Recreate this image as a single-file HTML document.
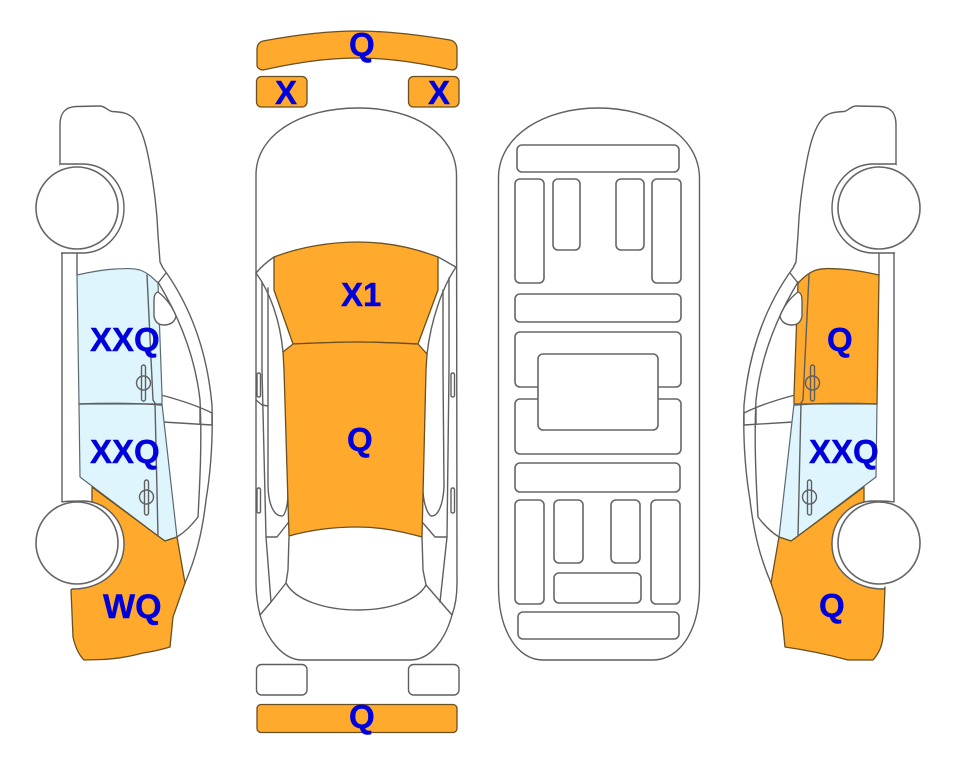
<!DOCTYPE html>
<html>
<head>
<meta charset="utf-8">
<style>
html,body{margin:0;padding:0;background:#fff;width:963px;height:768px;overflow:hidden}
svg{display:block}
text{font-family:"Liberation Sans",Arial,sans-serif;font-weight:bold;font-size:33px;fill:#0000dc;stroke:#0000dc;stroke-width:.4}
.l{fill:none;stroke:#5f5f5f;stroke-width:1.4;stroke-linejoin:round;stroke-linecap:round}
.w{fill:#fff;stroke:#5f5f5f;stroke-width:1.4}
.o{fill:#ffa92d;stroke:#6a5020;stroke-width:1.3;stroke-linejoin:round}
.b{fill:#def5fe;stroke:#5a6a70;stroke-width:1.2;stroke-linejoin:round}
.r{fill:#fff;stroke:#666;stroke-width:1.6}
</style>
</head>
<body>
<svg width="963" height="768" viewBox="0 0 963 768" xmlns="http://www.w3.org/2000/svg">
<defs>
<g id="side">
  <path class="l" d="M60 165L60 125C60 112 66 107 76 106.500L100 106C105 106 108 111 112 111.500C122 112 128 113 133 118C142 128 146 145 149 160C154 185 157 210 158 235L160 262L163 268C190 305 207 350 212 405C213 440 211 470 206 500C202 535 195 560 185 583"/>
  <path class="l" d="M158 282C178 315 195 355 200 400C202 440 200 480 198 517C192 525 185 532 177 537"/>
  <path class="l" d="M158 283L166 273"/>
  <path class="l" d="M62 253L62 502"/>
  <path class="l" d="M77 253L77 275"/>
  <path class="l" d="M161 395C180 400 198 406 212 413L212 425L163 422"/>
  <path class="l" d="M200 408L200 423"/>
</g>
<g id="sideTop">
  <path class="l" d="M147 275L153 400L155 403L158 536"/>
  <path class="l" d="M79 404C105 403 135 403 161 405"/>
  <path class="w" d="M158 292C154 293 154 298 154 302L154 316C155 322 158 325 164 325C170 325 175 322 176 316C172 306 166 298 158 292Z"/>
  <rect class="l" x="141.500" y="365" width="4" height="36" rx="2" style="fill:none"/>
  <circle class="l" cx="143.500" cy="383" r="7"/>
  <rect class="l" x="144.500" y="480" width="4" height="35" rx="2"/>
  <circle class="l" cx="146.500" cy="497" r="7"/>
  <path class="w" d="M60 164L84 164C107 165 124 184 124 208C124 232 107 252 84 253L61 253"/>
  <circle class="r" cx="77" cy="208" r="41"/>
  <path class="w" d="M62 502C66 501 76 501 84 501C107 502 124 521 124 544C124 570 102 589 72 589"/>
  <circle class="r" cx="77" cy="543" r="41"/>
</g>
</defs>

<!-- left car -->
<use href="#side"/>
<path class="b" d="M77 275C90 272 100 270 115 269C125 268.500 132 268 140 270C148 273 153 278 158 283L162 395L162 404L79 404Z"/>
<path class="b" d="M79 404L162 404L177 537L165 541L158 536L80 477Z"/>
<path class="o" d="M92 487L158 536L165 541L177 537L185 583L173 617L170 647C160 650 150 652 143 653C128 657 115 659 103 659.500L84 660C78 654 75 646 73 637L71 590L72 589C102 589 124 570 124 544C124 525 111 507 92 503Z"/>
<use href="#sideTop"/>

<!-- right car -->
<use href="#side" transform="translate(956,0) scale(-1,1)"/>
<g transform="translate(956,0) scale(-1,1)">
<path class="o" d="M77 275C90 272 100 270 115 269C125 268.500 132 268 140 270C148 273 153 278 158 283L162 395L162 404L79 404Z"/>
<path class="b" d="M79 404L162 404L177 537L165 541L158 536L80 477Z"/>
<path class="o" d="M92 487L158 536L165 541L177 537L185 583L174 617L171 647C150 650 130 654 108 660L83 660C76 652 74 645 73 637L71 587L72 589C102 589 124 570 124 544C124 525 111 507 92 503Z"/>
</g>
<use href="#sideTop" transform="translate(956,0) scale(-1,1)"/>

<!-- top view -->
<path class="o" d="M257 50C257 45 259 42 263 41C295 35 325 31 358 31C390 31 420 35 450 40C455 41 457 45 457 49L457 65C457 68 455 70 452 70C420 63 390 58 358 58C325 58 295 63 263 70C260 70 257 68 257 65Z"/>
<rect class="o" x="256.500" y="76.500" width="50.500" height="30.500" rx="5"/>
<rect class="o" x="408.500" y="76.500" width="50.500" height="30.500" rx="5"/>
<path class="l" d="M256 175C256 135 300 108 358 108C416 108 456 135 456.500 175L457 583C457 595 455 607 452 615C446 637 432 660 410 660L302 660C282 660 266 637 260 615C258 607 256 595 256 583Z"/>
<path class="l" d="M256 273C262 266 268 261 274 257M438 257C444 260 450 264 456 267"/>
<path class="l" d="M256 273C270 292 280 320 283 352M456 267C442 288 431 320 427 354"/>
<path class="l" d="M262 282L262 370L266 537L271 602"/>
<path class="l" d="M268 288L268 483C268 505 274 516 282 516C285 516 288 505 288 493"/>
<path class="l" d="M449 278L449 370L447 537L440 602"/>
<path class="l" d="M443 290L443 370L444 487C443 505 438 516 432 516C428 516 424 505 423 492"/>
<path class="l" d="M256 400L262 405L268 406"/>
<path class="l" d="M266 537L277 537L288 523M447 537L435 537L423 523"/>
<rect class="l" x="257" y="373" width="3.500" height="24" rx="1.500"/>
<rect class="l" x="257" y="488" width="3.500" height="25" rx="1.500"/>
<rect class="l" x="451" y="373" width="3.500" height="24" rx="1.500"/>
<rect class="l" x="451" y="488" width="3.500" height="25" rx="1.500"/>
<path class="l" d="M289 537L288 570L286 583C295 600 325 610 358 610C390 610 418 600 426 585L423 570L422 537"/>
<path class="l" d="M286 583L271 602L260 615M426 585L452 615"/>
<path class="o" d="M274 257C300 247 330 242 358 242C385 242 412 247 438 257L438 290L418 344C395 343 378 342 358 342C335 342 315 343 293 344L274 290Z"/>
<path class="o" d="M283 352L293 344C315 343 335 342 358 342C378 342 395 343 418 344L427 354L426 370L422 537C400 531 380 527 358 527C333 527 310 530 289 536L284 370Z"/>
<rect class="w" x="256.500" y="664.500" width="50.500" height="30.500" rx="5"/>
<rect class="w" x="408.500" y="664.500" width="50.500" height="30.500" rx="5"/>
<rect class="o" x="257" y="704.500" width="200" height="28" rx="4"/>

<!-- underbody -->
<path class="l" d="M498.500 178C498.500 135 545 108 598 108C652 108 699 135 699.500 178L699.500 587C699.500 630 680 660 653 660L543 660C517 660 498.500 630 498.500 587Z"/>
<rect class="r" x="517" y="145" width="162" height="27" rx="5"/>
<rect class="r" x="515" y="179" width="29" height="104" rx="5"/>
<rect class="r" x="553" y="179" width="27" height="71" rx="5"/>
<rect class="r" x="616" y="179" width="28" height="71" rx="5"/>
<rect class="r" x="652" y="179" width="29" height="104" rx="5"/>
<rect class="r" x="515" y="294" width="166" height="28" rx="5"/>
<rect class="r" x="515" y="332" width="166" height="55" rx="5"/>
<rect class="r" x="515" y="399" width="166" height="55" rx="5"/>
<rect class="r" x="538" y="354" width="120" height="76" rx="5"/>
<rect class="r" x="515" y="463" width="165" height="29" rx="5"/>
<rect class="r" x="515" y="500" width="29" height="104" rx="5"/>
<rect class="r" x="554" y="500" width="29" height="63" rx="5"/>
<rect class="r" x="611" y="500" width="29" height="63" rx="5"/>
<rect class="r" x="651" y="500" width="29" height="104" rx="5"/>
<rect class="r" x="554" y="573" width="87" height="30" rx="5"/>
<rect class="r" x="518" y="612" width="161" height="27" rx="5"/>

<!-- labels -->
<text x="349" y="56">Q</text>
<text x="275" y="104">X</text>
<text x="428" y="104">X</text>
<text x="341" y="306">X1</text>
<text x="347" y="451">Q</text>
<text x="349" y="728">Q</text>
<text x="90" y="351">XXQ</text>
<text x="90" y="463">XXQ</text>
<text x="103" y="618" style="font-size:34px">WQ</text>
<text x="827" y="351">Q</text>
<text x="809" y="463">XXQ</text>
<text x="819" y="617">Q</text>
</svg>
</body>
</html>
